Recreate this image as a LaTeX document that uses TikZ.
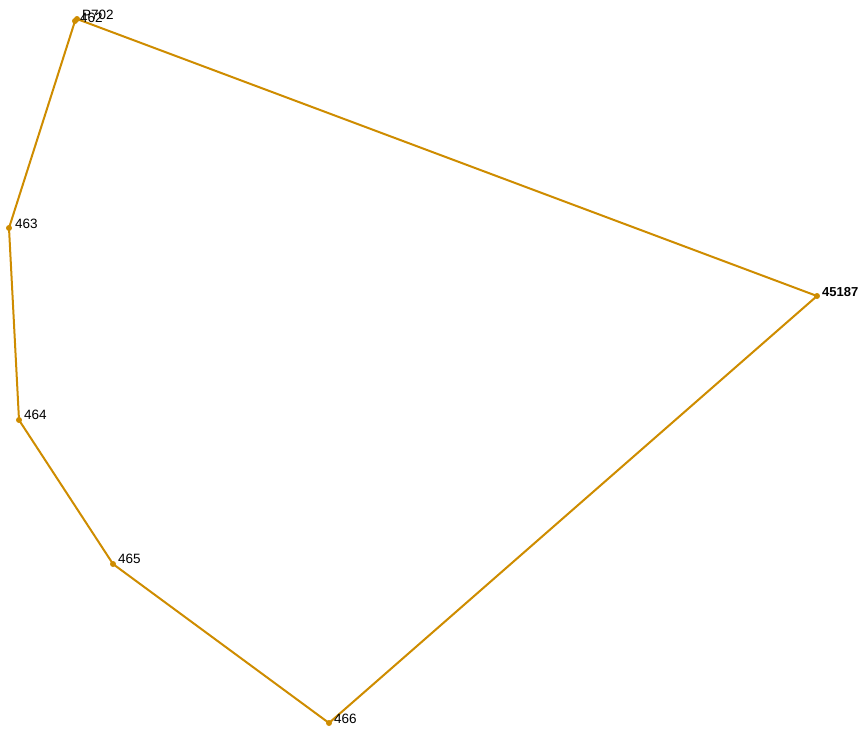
\documentclass[tikz,border=0pt]{standalone}
\usepackage{fontspec}
\setmainfont{Liberation Sans}
\definecolor{edgecol}{RGB}{206,140,0}
\begin{document}
\begin{tikzpicture}[x=1pt,y=-1pt,
  vtx/.style={circle,fill=edgecol,inner sep=0pt,minimum size=6pt},
  lbl/.style={anchor=base west,inner sep=0pt,font=\fontsize{13.5}{15}\selectfont,text=black},
  edge/.style={draw=edgecol,line width=2pt}]
\useasboundingbox (0,0) rectangle (864,728);
\node[vtx] (n462) at (75,21) {};
\node[vtx] (p702) at (77,19) {};
\node[vtx] (n463) at (9,228) {};
\node[vtx] (n464) at (19,420) {};
\node[vtx] (n465) at (113,564) {};
\node[vtx] (n466) at (329,723) {};
\node[vtx] (n45187) at (817,296) {};
\draw[edge] (n462.center) -- (n463.center) -- (n464.center) -- (n465.center) -- (n466.center) -- (n45187.center) -- (p702.center) -- (n462.center);
\node[lbl] (t462) at (80,22) {462};
\node[lbl] (t702) at (82,19) {P702};
\node[lbl] (t463) at (15,228) {463};
\node[lbl] (t464) at (24,419) {464};
\node[lbl] (t465) at (118,563) {465};
\node[lbl] (t466) at (334,723) {466};
\node[lbl,font=\bfseries\fontsize{13}{15}\selectfont] (t45187) at (822,296) {45187};
\end{tikzpicture}
\end{document}
